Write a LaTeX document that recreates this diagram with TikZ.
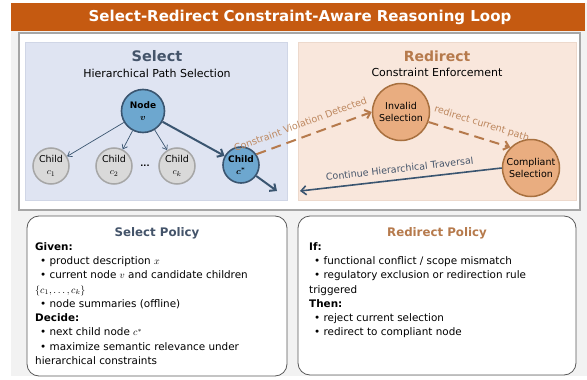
\documentclass[tikz,border=0pt]{standalone}
\usepackage{fontspec}
\setmainfont{DejaVu Sans}
\usepackage{amsmath}
\usetikzlibrary{positioning,calc,arrows.meta}
\definecolor{titlebar}{HTML}{C55A11}
\definecolor{bggray}{HTML}{F2F2F2}
\definecolor{framegray}{HTML}{A6A6A6}
\definecolor{selfill}{HTML}{DFE4F2}
\definecolor{selborder}{HTML}{D0D6E6}
\definecolor{redfill}{HTML}{F9E7DC}
\definecolor{redborder}{HTML}{EDD9CC}
\definecolor{slate}{HTML}{44546A}
\definecolor{navy}{HTML}{3A5570}
\definecolor{nodeblue}{HTML}{6DA7CF}
\definecolor{childgray}{HTML}{D9D9D9}
\definecolor{childborder}{HTML}{A6A6A6}
\definecolor{peach}{HTML}{E9AD80}
\definecolor{peachborder}{HTML}{A8703F}
\definecolor{rust}{HTML}{B67A4C}
\begin{document}
\begin{tikzpicture}[x=1pt,y=-1pt,
				bluenode/.style={circle,draw=navy,fill=nodeblue,line width=1.6pt,minimum size=#1,inner sep=0pt,align=center,font=\bfseries\fontsize{9}{11.5}\selectfont},
				graynode/.style={circle,draw=childborder,fill=childgray,line width=1.5pt,minimum size=36pt,inner sep=0pt,align=center,font=\fontsize{9.5}{12}\selectfont},
				peachnode/.style={circle,draw=peachborder,fill=peach,line width=1.5pt,minimum size=57pt,inner sep=0pt,align=center,font=\fontsize{9.5}{12}\selectfont},
				thinarrow/.style={navy,line width=0.7pt,-{Straight Barb[length=4pt,width=6pt]}},
				thickarrow/.style={navy,line width=2pt,-{Straight Barb[length=5pt,width=9pt]}},
				dasharrow/.style={rust,line width=2pt,dash pattern=on 10pt off 6pt,-{Straight Barb[length=5pt,width=9pt]}},
				edgelabel/.style={sloped,font=\fontsize{9.5}{11}\selectfont},
				policy/.style={draw=black!65,line width=0.8pt,rounded corners=12pt,fill=white},
				policytext/.style={anchor=north west,align=left,inner sep=0pt,font=\fontsize{10.4}{14.3}\selectfont}]
				\useasboundingbox (0,0) rectangle (587,380);
				\fill[bggray] (11,3) rectangle (587,376);
				\fill[titlebar] (11,3) rectangle (585,31);
				\node[text=white,font=\bfseries\fontsize{15}{18}\selectfont] (title) at (300,17) {Select-Redirect Constraint-Aware Reasoning Loop};
				\draw[framegray,line width=1.5pt,fill=white] (19,33) rectangle (580,210);
				\draw[selborder,fill=selfill] (25,42) rectangle (287,200);
				\draw[redborder,fill=redfill] (298,42) rectangle (576,200);
				
				\node[text=slate,font=\bfseries\fontsize{14.5}{18}\selectfont] (seltitle) at (157,56) {Select};
				\node[font=\fontsize{11}{13}\selectfont] (selsub) [below=0pt of seltitle] {Hierarchical Path Selection};
				\node[text=rust,font=\bfseries\fontsize{14}{18}\selectfont] (redtitle) at (437,56) {Redirect};
				\node[font=\fontsize{11}{13}\selectfont] (redsub) [below=0pt of redtitle] {Constraint Enforcement};
				
				\node (V)     [bluenode=43pt] at (143,111) {Node\\[1pt]$\boldsymbol{v}$};
				\node (C1)    [graynode]      at (51,166)  {Child\\$c_1$};
				\node (C2)    [graynode]      at (114,166) {Child\\$c_2$};
				\node (DOTS)                  at (145,166) {\fontsize{8}{10}\selectfont\bfseries ...};
				\node (CK)    [graynode]      at (177,166) {Child\\$c_k$};
				\node (CSTAR) [bluenode=36pt] at (241,165) {Child\\$\boldsymbol{c^*}$};
				\coordinate (SELOUT) at (277,191);
				\node (INV)   [peachnode]     at (401,112) {Invalid\\Selection};
				\node (COMP)  [peachnode]     at (531,168) {Compliant\\Selection};
				\coordinate (REDOUT) at (300,191);
				
				\draw[thinarrow]  (V) -- (C1);
				\draw[thinarrow]  (V) -- (C2);
				\draw[thinarrow]  (V) -- (CK);
				\draw[thickarrow] (V) -- (CSTAR);
				\draw[thickarrow] (CSTAR) -- (SELOUT);
				\draw[dasharrow]  (CSTAR.35) -- node[edgelabel,pos=0.42,above=5pt,text=rust!90] {Constraint Violation Detected} (INV.west);
				\draw[dasharrow]  (INV.-20) -- node[edgelabel,pos=0.6,above=5pt,text=rust!90] {redirect current path} (COMP.135);
				\draw[thickarrow,line width=1.6pt] (COMP.west) -- node[edgelabel,above=3pt,text=slate] {Continue Hierarchical Traversal} (REDOUT);
				
				\draw[policy] (27,216) rectangle (287,376);
				\draw[policy] (298,216) rectangle (576,375);
				\node[text=slate,font=\bfseries\fontsize{11.8}{14}\selectfont] (selpol) at (157,233) {Select Policy};
				\node[text=rust,font=\bfseries\fontsize{11.8}{14}\selectfont] (redpol) at (437,233) {Redirect Policy};
				\node[policytext] (seltext) at (35,242) {\textbf{Given:}\\
					\hspace*{5pt}\textbullet\ product description $x$\\
					\hspace*{5pt}\textbullet\ current node $v$ and candidate children\\
					$\{c_1,\dots,c_k\}$\\
					\hspace*{5pt}\textbullet\ node summaries (offline)\\
					\textbf{Decide:}\\
					\hspace*{5pt}\textbullet\ next child node $c^*$\\
					\hspace*{5pt}\textbullet\ maximize semantic relevance under\\
					hierarchical constraints};
				\node[policytext] (redtext) at (309,242) {\textbf{If:}\\
					\hspace*{5pt}\textbullet\ functional conflict / scope mismatch\\
					\hspace*{5pt}\textbullet\ regulatory exclusion or redirection rule\\
					triggered\\
					\textbf{Then:}\\
					\hspace*{5pt}\textbullet\ reject current selection\\
					\hspace*{5pt}\textbullet\ redirect to compliant node};
			\end{tikzpicture}
\end{document}
